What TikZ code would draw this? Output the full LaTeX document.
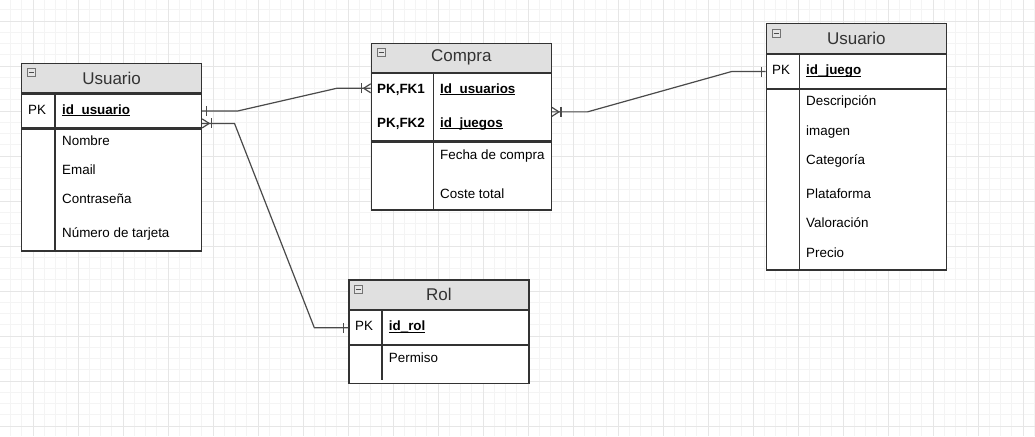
\documentclass[tikz,border=0pt]{standalone}
\usepackage{fontspec}
\setmainfont{Liberation Sans}
\usetikzlibrary{positioning}

\definecolor{gridminor}{HTML}{F4F4F4}
\definecolor{gridmajor}{HTML}{E6E6E6}
\definecolor{tblline}{HTML}{333333}
\definecolor{headfill}{HTML}{E0E0E0}
\definecolor{relcol}{HTML}{4A4A4A}

\newcommand\fldfont{\fontsize{13.4pt}{16pt}\selectfont}
\newcommand\hdfont{\fontsize{17pt}{20pt}\selectfont}
\newcommand\keyul[1]{\setbox0=\hbox{#1}\rlap{\rule[-2.2pt]{\wd0}{1.1pt}}\box0}

\tikzset{
  tblhead/.style={draw=tblline, line width=1.2pt, fill=headfill, anchor=north west,
    inner sep=0pt, minimum width=180pt, text=black!80, font=\hdfont},
  tblrow/.style={draw=tblline, line width=1.2pt, fill=white, anchor=north west,
    inner sep=0pt, minimum width=180pt},
  fldtxt/.style={anchor=west, inner sep=0pt, text height=9.6pt, text depth=0pt, font=\fldfont},
  keytxt/.style={fldtxt, font=\fldfont\bfseries},
  minbox/.style={draw=black!55, fill=black!10, line width=0.8pt, minimum size=8pt, inner sep=0pt,
    path picture={\draw[black!70, line width=1.1pt]
      ([xshift=-2.5pt]path picture bounding box.center) -- ([xshift=2.5pt]path picture bounding box.center);}},
  divline/.style={draw=tblline, line width=1.2pt},
  relline/.style={draw=relcol, line width=1.2pt},
  crowone/.pic={\draw[relline] (0,-4.5) -- (7,0) -- (0,4.5); \draw[relline] (9,-5) -- (9,5);},
  onebar/.pic={\draw[relline] (4.5,-5) -- (4.5,5);}
}

\begin{document}
\begin{tikzpicture}[x=1pt, y=-1pt]
  % page and grid
  \fill[white] (0,0) rectangle (1035,436);
  \useasboundingbox (0,0) rectangle (1035,436);
  \foreach \i in {0,...,91} \draw[gridminor, line width=0.8pt] ({10.5+11.25*\i},0) -- ({10.5+11.25*\i},436);
  \foreach \j in {0,...,37} \draw[gridminor, line width=0.8pt] (0,{9.75+11.25*\j}) -- (1035,{9.75+11.25*\j});
  \foreach \i in {0,...,22} \draw[gridmajor, line width=0.8pt] ({33+45*\i},0) -- ({33+45*\i},436);
  \foreach \j in {0,...,9} \draw[gridmajor, line width=0.8pt] (0,{21+45*\j}) -- (1035,{21+45*\j});

  % Usuario
  \node[tblhead, minimum height=29.6pt] (usrhead) at (21,62.7) {Usuario};
  \node[tblrow, minimum height=33.7pt] (usrpk) at (usrhead.south west) {};
  \node[tblrow, minimum height=122pt] (usrfld) at (usrpk.south west) {};
  \node[minbox] (usrmin) at ([xshift=10.3pt,yshift=-10pt]usrhead.north west) {};
  \draw[divline] ([xshift=34pt]usrpk.north west) -- ([xshift=34pt]usrfld.south west);
  \node[fldtxt] (usrpkl) at (28,109.2) {PK};
  \node[keytxt] (usrid) at (62,109.2) {\keyul{id\_usuario}};
  \node[fldtxt] (usrnom) at (62,140.7) {Nombre};
  \node[fldtxt] (usrmail) at (62,170) {Email};
  \node[fldtxt] (usrpass) at (62,199) {Contraseña};
  \node[fldtxt] (usrcard) at (62,233) {Número de tarjeta};

  % Compra
  \node[tblhead, minimum height=29pt] (cmphead) at (370.7,42.7) {Compra};
  \node[tblrow, minimum height=67.3pt] (cmpkeys) at (cmphead.south west) {};
  \node[tblrow, minimum height=68pt] (cmpfld) at (cmpkeys.south west) {};
  \node[minbox] (cmpmin) at ([xshift=10.3pt,yshift=-10pt]cmphead.north west) {};
  \draw[divline] ([xshift=63pt]cmpkeys.north west) -- ([xshift=63pt]cmpfld.south west);
  \node[keytxt] (cmpfk1) at (377,88.3) {PK,FK1};
  \node[keytxt] (cmpfk2) at (377,122.3) {PK,FK2};
  \node[keytxt] (cmpusr) at (440,88.3) {\keyul{Id\_usuarios}};
  \node[keytxt] (cmpjgo) at (440,122.3) {\keyul{id\_juegos}};
  \node[fldtxt] (cmpdate) at (440,155) {Fecha de compra};
  \node[fldtxt] (cmpcost) at (440,193.3) {Coste total};

  % juegos (titled Usuario)
  \node[tblhead, minimum height=29.4pt] (jgohead) at (765.7,23.3) {Usuario};
  \node[tblrow, minimum height=34pt] (jgopk) at (jgohead.south west) {};
  \node[tblrow, minimum height=180.3pt] (jgofld) at (jgopk.south west) {};
  \node[minbox] (jgomin) at ([xshift=10.3pt,yshift=-10pt]jgohead.north west) {};
  \draw[divline] ([xshift=33.6pt]jgopk.north west) -- ([xshift=33.6pt]jgofld.south west);
  \node[fldtxt] (jgopkl) at (772,69.7) {PK};
  \node[keytxt] (jgoid) at (806,69.7) {\keyul{id\_juego}};
  \node[fldtxt] (jgodesc) at (806,101) {Descripción};
  \node[fldtxt] (jgoimg) at (806,130.7) {imagen};
  \node[fldtxt] (jgocat) at (806,160) {Categoría};
  \node[fldtxt] (jgoplat) at (806,194) {Plataforma};
  \node[fldtxt] (jgoval) at (806,222.7) {Valoración};
  \node[fldtxt] (jgoprice) at (806,252.3) {Precio};

  % Rol
  \node[tblhead, minimum height=29.7pt] (rolhead) at (348.3,279.3) {Rol};
  \node[tblrow, minimum height=33.7pt] (rolpk) at (rolhead.south west) {};
  \node[tblrow, minimum height=38pt] (rolfld) at (rolpk.south west) {};
  \node[minbox] (rolmin) at ([xshift=10.3pt,yshift=-10pt]rolhead.north west) {};
  \draw[divline] ([xshift=33.7pt]rolpk.north west) -- ([xshift=33.7pt,yshift=4pt]rolfld.south west);
  \node[fldtxt] (rolpkl) at (355,325.85) {PK};
  \node[keytxt] (rolid) at (388.7,325.85) {\keyul{id\_rol}};
  \node[fldtxt] (rolperm) at (388.7,357.7) {Permiso};

  % relations
  \coordinate (cmpin) at (cmpkeys.west |- cmpfk1);
  \draw[relline] (usrpk.east) -- ++(35.7,0) -- ([xshift=-34pt]cmpin) -- (cmpin);
  \pic at (usrpk.east) {onebar};
  \pic[rotate=180] at (cmpin) {crowone};

  \coordinate (usrout) at ([yshift=5pt]usrpk.south east);
  \coordinate (rolin) at (rolpk.west);
  \draw[relline] (usrout) -- ++(32.3,0) -- ([xshift=-34pt]rolin) -- (rolin);
  \pic at (usrout) {crowone};
  \pic[rotate=180] at (rolin) {onebar};

  \coordinate (cmpout) at ([yshift=-4.7pt]cmpkeys.east);
  \coordinate (jgoin) at (jgopk.west);
  \draw[relline] (cmpout) -- ++(35.7,0) -- ([xshift=-34pt]jgoin) -- (jgoin);
  \pic at (cmpout) {crowone};
  \pic[rotate=180] at (jgoin) {onebar};
\end{tikzpicture}
\end{document}
